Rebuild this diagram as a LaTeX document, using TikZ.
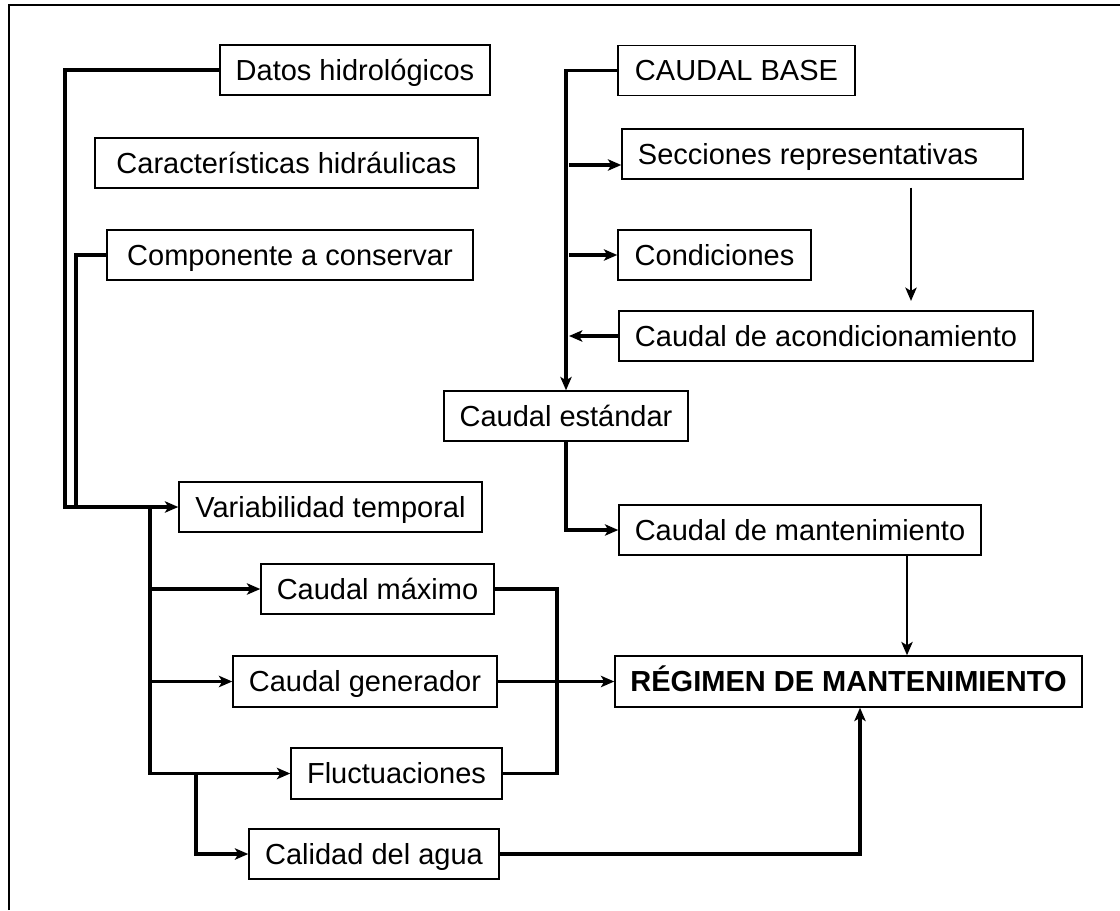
\documentclass[tikz,border=0pt]{standalone}
\usepackage{fontspec}
\setmainfont{Liberation Sans}
\usetikzlibrary{arrows.meta}
\begin{document}
\begin{tikzpicture}[x=0.75pt,y=-0.75pt,
  box/.style={draw, line width=1.1pt, inner sep=0pt, minimum height=37.5pt,
    text height=15.6pt, text depth=0pt,
    font=\fontsize{21.75}{26}\selectfont},
  conn/.style={line width=2.4pt},
  tconn/.style={line width=1.6pt},
  arr/.style={-{Stealth[length=10pt,width=8.5pt,inset=2.5pt]}}]
\useasboundingbox (0,0) rectangle (1120,910);
\draw[line width=1.5pt] (8.5,910) -- (8.5,5) -- (1120,5);

% nodes
\node[box, minimum width=202.5pt] (datos) at (355,70) {Datos hidrológicos};
\node[box, minimum width=177.75pt] (base) at (736.5,70.5) {CAUDAL BASE};
\node[box, minimum width=287.25pt] (carac) at (286.5,163) {Características hidráulicas};
\node[box, minimum width=300.75pt] (secc) at (822.5,154) {Secciones representativas\hspace*{21.75pt}};
\node[box, minimum width=274.5pt] (comp) at (290,255) {Componente a conservar};
\node[box, minimum width=144.75pt] (cond) at (714.5,255) {Condiciones};
\node[box, minimum width=310.5pt] (acond) at (826,336) {Caudal de acondicionamiento};
\node[box, minimum width=183pt] (estand) at (566,416) {Caudal estándar};
\node[box, minimum width=227.25pt] (varia) at (330.5,507) {Variabilidad temporal};
\node[box, minimum width=271.5pt] (mant) at (800,530) {Caudal de mantenimiento};
\node[box, minimum width=174.75pt] (max) at (377.5,589) {Caudal máximo};
\node[box, minimum width=198pt, minimum height=38.25pt] (gen) at (365,681.5) {Caudal generador};
\node[box, minimum width=350.25pt, minimum height=38.25pt, font=\fontsize{21.75}{26}\selectfont\bfseries] (reg) at (848.5,681.5) {RÉGIMEN DE MANTENIMIENTO};
\node[box, minimum width=158.25pt, minimum height=38.25pt] (fluc) at (396.5,773.5) {Fluctuaciones};
\node[box, minimum width=187.5pt] (cal) at (374,854) {Calidad del agua};

% helper coordinates
\coordinate (jL) at (65,507);
\coordinate (jL2) at (76,507);
\coordinate (b1) at (150,507);
\coordinate (b2) at (196,773.5);
\coordinate (m1) at (557,681.5);
\coordinate (xr) at (860,0);
\coordinate (xm) at (907,0);
\coordinate (xs) at (911,0);
\coordinate (s1) at (569,165);

% left side
\draw[conn,arr] (datos.west) -| (jL) -- (varia.west);
\draw[conn] (comp.west) -| (jL2);
\draw[conn,arr] (b1) |- (fluc.west);
\draw[conn,arr] (b1 |- max.west) -- (max.west);
\draw[conn,arr] (b1 |- gen.west) -- (gen.west);
\draw[conn,arr] (b2) |- (cal.west);
\draw[conn] (max.east) -| (m1);
\draw[conn] (fluc.east) -| (m1);
\draw[conn,arr] (gen.east) -- (reg.west);
\draw[conn,arr] (cal.east) -| (reg.south -| xr);

% right side
\draw[conn,arr] (base.west) -| (estand.north);
\draw[conn,arr] (s1) -- (s1 -| secc.west);
\draw[conn,arr] (cond.west -| s1) -- (cond.west);
\draw[conn,arr] (acond.west) -- (acond.west -| s1);
\draw[tconn,arr,shorten <=6pt,shorten >=7pt] (secc.south -| xs) -- (acond.north -| xs);
\draw[conn,arr] (estand.south) |- (mant.west);
\draw[tconn,arr] (mant.south -| xm) -- (reg.north -| xm);
\end{tikzpicture}
\end{document}
